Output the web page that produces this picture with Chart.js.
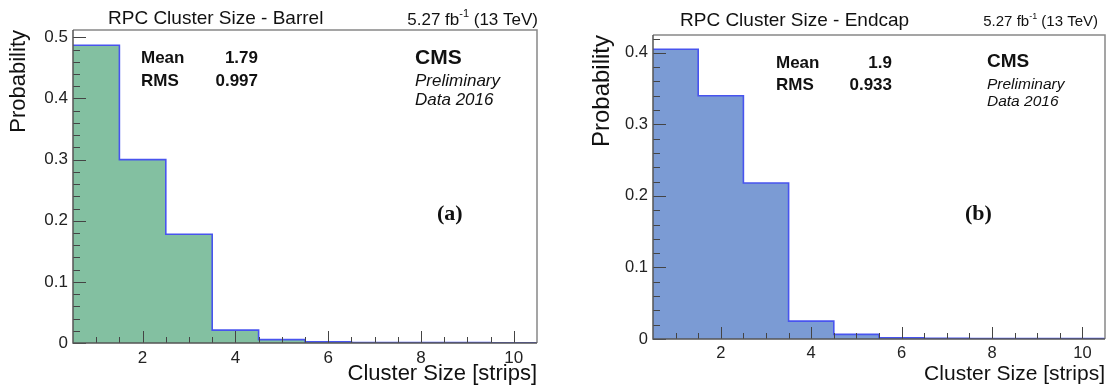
<!DOCTYPE html>
<html><head><meta charset="utf-8">
<script src="https://cdn.jsdelivr.net/npm/chart.js@4.4.1/dist/chart.umd.min.js"></script>
<style>
html,body{margin:0;padding:0;background:#fff;overflow:hidden}
#wrap{position:relative;width:1110px;height:387px}
.pane{position:absolute;top:0;width:555px;height:387px}
</style></head><body>
<div id="wrap">
<div class="pane" style="left:0"><canvas id="c1" width="555" height="387"></canvas></div>
<div class="pane" style="left:555px"><canvas id="c2" width="555" height="387"></canvas></div>
</div>
<script>
// ---- data ----
const clusterSizes = [1, 2, 3, 4, 5, 6, 7, 8, 9, 10];
const barrelProb = [0.487, 0.300, 0.178, 0.021, 0.0055, 0.0018, 0.0009, 0.0007, 0.0006, 0.0005];
const endcapProb = [0.405, 0.340, 0.218, 0.025, 0.0065, 0.0018, 0.0009, 0.0007, 0.0006, 0.0005];
const xTickValues = [2, 4, 6, 8, 10];
const yTickValuesBarrel = [0, 0.1, 0.2, 0.3, 0.4, 0.5];
const yTickValuesEndcap = [0, 0.1, 0.2, 0.3, 0.4];
const statLabels = ['Mean', 'RMS'];
const barrelStats = ['1.79', '0.997'];
const endcapStats = ['1.9', '0.933'];
const cmsLines = ['CMS', 'Preliminary', 'Data 2016'];

const SANS = '"Liberation Sans", Arial, Helvetica, sans-serif';
Chart.defaults.color = '#222';
Chart.defaults.font.family = SANS;

const rootPlugin = {
  id: 'rootDecor',
  afterDatasetsDraw(chart, args, o) {
    const {ctx, chartArea: a, scales: {x, y}} = chart;
    ctx.save();
    ctx.strokeStyle = '#444';
    ctx.lineWidth = 1;
    ctx.beginPath();
    for (let k = 0; ; k++) {
      const v = k * 0.02;
      if (v > y.max + 1e-9) break;
      const py = Math.round(y.getPixelForValue(v)) + 0.5;
      const len = (k % 5 === 0) ? o.yMajor : o.yMinor;
      ctx.moveTo(a.left, py); ctx.lineTo(a.left + len, py);
    }
    for (let k = 1; ; k++) {
      const v = x.min + k * 0.5;
      if (v >= x.max - 1e-9) break;
      const px = Math.round(x.getPixelForValue(v)) + 0.5;
      const len = (Math.abs(v % 2) < 1e-9) ? o.xMajor : o.xMinor;
      ctx.moveTo(px, a.bottom); ctx.lineTo(px, a.bottom - len);
    }
    ctx.stroke();
    ctx.lineWidth = 1.5;
    ctx.strokeStyle = '#888';
    ctx.beginPath();
    ctx.moveTo(a.left, a.top); ctx.lineTo(a.right, a.top); ctx.lineTo(a.right, a.bottom);
    ctx.stroke();
    ctx.strokeStyle = '#555';
    ctx.beginPath();
    ctx.moveTo(a.left, a.top); ctx.lineTo(a.left, a.bottom); ctx.lineTo(a.right, a.bottom);
    ctx.stroke();
    ctx.restore();
  },
  afterDraw(chart, args, o) {
    const ctx = chart.ctx;
    ctx.save();
    ctx.fillStyle = '#111';
    ctx.textBaseline = 'middle';
    ctx.font = `${o.titleSize}px ${SANS}`;
    ctx.textAlign = 'left';
    ctx.fillText(o.title, o.titleX, o.titleY);
    const big = `${o.lumiSize}px ${SANS}`, small = `${Math.round(o.lumiSize * 0.62)}px ${SANS}`;
    const p1 = '5.27 fb', p2 = '-1', p3 = ' (13 TeV)';
    ctx.font = big; const w1 = ctx.measureText(p1).width, w3 = ctx.measureText(p3).width;
    ctx.font = small; const w2 = ctx.measureText(p2).width;
    let sx = o.lumiRight - (w1 + w2 + w3);
    ctx.font = big; ctx.fillText(p1, sx, o.lumiY);
    ctx.font = small; ctx.fillText(p2, sx + w1, o.lumiY - o.lumiSize * 0.35);
    ctx.font = big; ctx.fillText(p3, sx + w1 + w2, o.lumiY);
    ctx.font = `bold ${o.statSize}px ${SANS}`;
    statLabels.forEach((t, i) => {
      ctx.textAlign = 'left';
      ctx.fillText(t, o.statX, o.statY[i]);
      ctx.textAlign = 'right';
      ctx.fillText(o.stats[i], o.statValX, o.statY[i]);
    });
    ctx.textAlign = 'left';
    ctx.font = `bold ${o.cmsSize}px ${SANS}`;
    ctx.fillText(cmsLines[0], o.cmsX, o.cmsY[0]);
    ctx.font = `italic ${o.prelimSize}px ${SANS}`;
    ctx.fillText(cmsLines[1], o.cmsX, o.cmsY[1]);
    ctx.fillText(cmsLines[2], o.cmsX, o.cmsY[2]);
    ctx.font = `bold ${o.tagSize}px "Liberation Serif", "Times New Roman", serif`;
    ctx.fillText(o.tag, o.tagX, o.tagY);
    ctx.restore();
  }
};

function histPoints(values) {
  const n = clusterSizes.length;
  const pts = [{x: clusterSizes[0] - 0.5, y: values[0]}];
  clusterSizes.forEach((c, i) => pts.push({x: c, y: values[i]}));
  pts.push({x: clusterSizes[n - 1] + 0.5, y: values[n - 1]});
  return pts;
}

function makeChart(id, values, yTicks, cfg) {
  return new Chart(document.getElementById(id), {
    type: 'line',
    data: {datasets: [{
      data: histPoints(values),
      stepped: 'middle',
      fill: 'origin',
      backgroundColor: cfg.fill,
      borderColor: 'rgb(72,84,238)',
      borderWidth: 1.6,
      pointRadius: 0,
      tension: 0
    }]},
    options: {
      responsive: false,
      animation: false,
      devicePixelRatio: 1,
      layout: {padding: cfg.pad},
      plugins: {legend: {display: false}, tooltip: {enabled: false}, rootDecor: cfg.decor},
      scales: {
        x: {
          type: 'linear', min: clusterSizes[0] - 0.5, max: clusterSizes[clusterSizes.length - 1] + 0.5,
          grid: {display: false, drawTicks: false, tickLength: 0}, border: {display: false},
          afterBuildTicks: s => { s.ticks = xTickValues.map(v => ({value: v})); },
          afterFit: s => { s.height = cfg.xH; },
          ticks: {autoSkip: false, maxRotation: 0, padding: cfg.xTickPad, font: {size: cfg.tickSize}, color: '#222',
                  callback: v => String(v)},
          title: {display: true, text: 'Cluster Size [strips]', align: 'end', color: '#111',
                  font: {size: cfg.xTitleSize}, padding: {top: 0, bottom: cfg.xTitlePad}}
        },
        y: {
          min: 0, max: cfg.ymax,
          grid: {display: false, drawTicks: false, tickLength: 0}, border: {display: false},
          afterBuildTicks: s => { s.ticks = yTicks.map(v => ({value: v})); },
          afterFit: s => { s.width = cfg.yW; },
          ticks: {autoSkip: false, padding: cfg.yTickPad, font: {size: cfg.tickSize}, color: '#222',
                  callback: v => v === 0 ? '0' : v.toFixed(1)},
          title: {display: true, text: 'Probability', align: 'end', color: '#111',
                  font: {size: cfg.yTitleSize}, padding: {top: cfg.yTitlePad, bottom: 0}}
        }
      }
    },
    plugins: [rootPlugin]
  });
}

makeChart('c1', barrelProb, yTickValuesBarrel, {
  fill: 'rgb(131,192,161)', ymax: 0.512,
  pad: {left: 0, right: 18, top: 30, bottom: 0},
  yW: 73, xH: 44, tickSize: 17, xTickPad: 5, yTickPad: 5,
  xTitleSize: 22, xTitlePad: 0, yTitleSize: 22, yTitlePad: 6,
  decor: {
    yMajor: 13, yMinor: 7, xMajor: 12, xMinor: 6,
    title: 'RPC Cluster Size - Barrel', titleSize: 19, titleX: 108, titleY: 19,
    lumiSize: 17, lumiRight: 538, lumiY: 20,
    stats: barrelStats, statSize: 17, statX: 141, statValX: 258, statY: [58, 81],
    cmsSize: 21, prelimSize: 17, cmsX: 415, cmsY: [58, 81, 100],
    tag: '(a)', tagSize: 22, tagX: 437, tagY: 214
  }
});

makeChart('c2', endcapProb, yTickValuesEndcap, {
  fill: 'rgb(123,155,212)', ymax: 0.425,
  pad: {left: 0, right: 5, top: 35, bottom: 0},
  yW: 98, xH: 48, tickSize: 16.5, xTickPad: 5, yTickPad: 5,
  xTitleSize: 21, xTitlePad: 0, yTitleSize: 24, yTitlePad: 33,
  decor: {
    yMajor: 13, yMinor: 7, xMajor: 12, xMinor: 6,
    title: 'RPC Cluster Size - Endcap', titleSize: 19, titleX: 125, titleY: 21,
    lumiSize: 15, lumiRight: 543, lumiY: 22,
    stats: endcapStats, statSize: 17, statX: 221, statValX: 337, statY: [63, 85],
    cmsSize: 19, prelimSize: 15.5, cmsX: 432, cmsY: [62, 85, 102],
    tag: '(b)', tagSize: 22, tagX: 410, tagY: 214
  }
});
</script>
</body></html>
